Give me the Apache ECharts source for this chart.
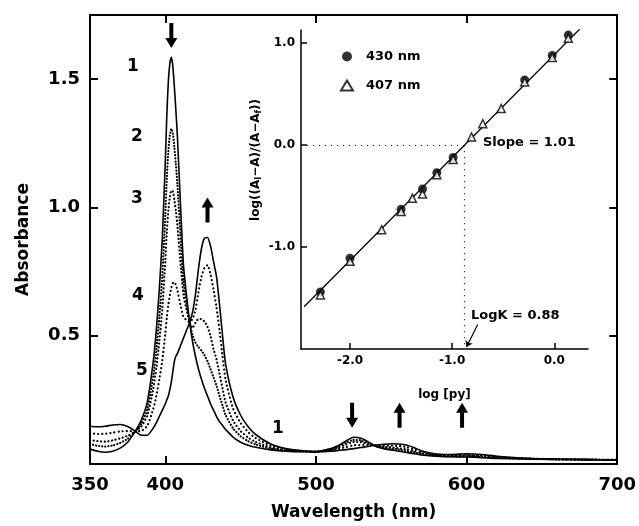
<!DOCTYPE html>
<html><head><meta charset="utf-8">
<script src="https://cdn.jsdelivr.net/npm/echarts@6/dist/echarts.min.js"></script>
<style>html,body{margin:0;padding:0;background:#fff}#c{width:639px;height:526px}</style>
</head><body><div id="c"></div>
<script>
// ---- main spectra (wavelength nm, absorbance) ----
const wavelengths = [350,355,360,365,370,375,380,384,388,392,394,396,398,400,401,402,403,404,405,406,407,408,410,412,414,416,418,420,422,424,426,428,430,432,434,436,438,440,445,450,455,460,470,480,490,500,510,515,520,525,530,535,540,545,550,555,560,565,570,575,580,590,600,610,620,640,660,680,700];
const spectrum1 = [.058,.050,.046,.050,.062,.085,.127,.17,.24,.40,.52,.68,.88,1.18,1.36,1.49,1.56,1.585,1.55,1.47,1.38,1.28,1.02,.78,.66,.56,.48,.42,.37,.33,.295,.265,.235,.21,.185,.165,.15,.135,.105,.085,.073,.065,.055,.05,.048,.048,.06,.072,.09,.104,.10,.085,.068,.06,.055,.05,.045,.04,.035,.032,.03,.028,.027,.025,.022,.02,.018,.017,.016];
const spectrum2 = [.078,.071,.068,.072,.082,.098,.127,.157,.212,.343,.441,.571,.733,.972,1.116,1.220,1.281,1.307,1.288,1.235,1.169,1.093,.897,.716,.629,.558,.504,.473,.456,.442,.424,.401,.370,.338,.305,.265,.227,.191,.139,.108,.089,.076,.060,.052,.049,.048,.058,.068,.083,.094,.092,.081,.069,.064,.060,.056,.051,.045,.039,.035,.032,.030,.030,.028,.024,.020,.018,.017,.016];
const spectrum3 = [.094,.089,.087,.092,.100,.110,.127,.146,.188,.293,.372,.477,.605,.793,.905,.988,1.039,1.066,1.062,1.031,.986,.932,.790,.661,.603,.556,.53,.55,.565,.565,.555,.535,.50,.448,.408,.352,.294,.240,.169,.128,.103,.086,.064,.054,.050,.048,.056,.064,.076,.086,.085,.078,.070,.067,.065,.061,.057,.050,.042,.037,.034,.032,.032,.030,.025,.021,.018,.017,.016];
const spectrum4 = [.121,.117,.118,.122,.127,.128,.128,.129,.149,.215,.264,.329,.404,.509,.572,.620,.658,.687,.705,.710,.698,.677,.622,.574,.561,.553,.565,.60,.67,.73,.765,.775,.74,.68,.61,.52,.42,.33,.215,.160,.124,.101,.071,.057,.051,.048,.053,.059,.066,.073,.074,.074,.072,.072,.072,.070,.066,.057,.047,.041,.036,.034,.036,.034,.028,.021,.019,.017,.016];
const spectrum5 = [.147,.145,.147,.152,.154,.146,.128,.112,.112,.14,.16,.185,.21,.235,.25,.265,.29,.32,.36,.40,.42,.43,.46,.49,.52,.55,.59,.66,.76,.84,.88,.883,.85,.79,.73,.62,.50,.39,.26,.19,.145,.115,.078,.06,.052,.048,.05,.053,.056,.06,.064,.069,.074,.077,.079,.078,.074,.064,.052,.044,.039,.037,.04,.037,.03,.022,.019,.017,.016];
const mainXLabels = [350,400,500,600,700];
const mainXTicks = [400,500,600];
const mainYTicks = [0.5,1.0,1.5];
// arrows: [wavelength, absorbance, direction]
const arrows = [[404,1.67,'down'],[428,0.99,'up'],[524,0.19,'down'],[555.5,0.19,'up'],[597,0.19,'up']];

// ---- inset: log[py] vs log((Ai-A)/(A-Af)) ----
const logPy430 = [-2.29,-2.0,-1.50,-1.29,-1.15,-0.99,-0.29,-0.02,0.137];
const logRatio430 = [-1.44,-1.11,-0.63,-0.43,-0.27,-0.12,0.64,0.88,1.08];
const logPy407 = [-2.29,-2.0,-1.69,-1.50,-1.39,-1.29,-1.15,-0.99,-0.81,-0.70,-0.52,-0.29,-0.02,0.137];
const logRatio407 = [-1.47,-1.14,-0.83,-0.65,-0.52,-0.48,-0.29,-0.14,0.08,0.21,0.36,0.62,0.86,1.05];
const fitX = [-2.45,0.27];
const fitY = [-1.586,1.16];
const logKx = -0.88;
const insetTicks = [-2,-1,0];
const insetYTicks = [-1,0,1];

const F = 'DejaVu Sans';
const bold = (s)=>({fontFamily:F,fontWeight:'bold',fontSize:s,color:'#000'});
const upArrow = 'path://M6,0 L12,10 L8,10 L8,25 L4,25 L4,10 L0,10 Z';
const downArrow = 'path://M4,0 L8,0 L8,15 L12,15 L6,25 L0,15 L4,15 Z';

const mk = (name, vals, ls) => ({
  name, type:'line', xAxisIndex:0, yAxisIndex:0, showSymbol:false, smooth:0.2, silent:true,
  data: wavelengths.map((w,i)=>[w, vals[i]]),
  lineStyle: Object.assign({color:'#000'}, ls), z:3
});

const s1 = mk('1', spectrum1, {width:1.6, type:'solid'});
s1.markPoint = {
  silent:true, label:{show:false},
  itemStyle:{color:'#000'},
  data: arrows.map(a=>({coord:[a[0],a[1]], symbol: a[2]==='up'?upArrow:downArrow, symbolSize:[12,25]}))
};

const fitSeries = {
  name:'fit', type:'line', xAxisIndex:2, yAxisIndex:2, showSymbol:false, silent:true,
  data: fitX.map((x,i)=>[x, fitY[i]]), lineStyle:{color:'#000', width:1.3}, z:4,
  markLine:{
    silent:true, symbol:['none','none'], label:{show:false},
    lineStyle:{color:'#000', type:[1,5], width:1.2},
    data:[
      [{coord:[-2.48,0]},{coord:[logKx,0]}],
      [{coord:[logKx,0]},{coord:[logKx,-2]}]
    ]
  }
};
const pointerSeries = {
  name:'ptr', type:'line', xAxisIndex:2, yAxisIndex:2, showSymbol:false, silent:true, data:[],
  markLine:{
    silent:true, symbol:['none','arrow'], symbolSize:6, label:{show:false},
    lineStyle:{color:'#000', type:'solid', width:1.2},
    data:[[{coord:[-0.75,-1.76]},{coord:[-0.86,-1.98]}]]
  }
};

const option = {
  animation:false,
  backgroundColor:'#fff',
  grid:[{left:90, top:15, width:528, height:455}, {left:301, top:30, width:287, height:319}],
  legend:{
    data:['430 nm','407 nm'], orient:'vertical', left:335, top:45, itemWidth:12, itemHeight:10, itemGap:16,
    textStyle:Object.assign(bold(13),{padding:[0,0,0,8]}), selectedMode:false
  },
  xAxis:[
    {gridIndex:0, type:'value', min:350, max:700, position:'bottom',
     axisLine:{onZero:false, lineStyle:{color:'#000', width:2}},
     axisTick:{inside:true, length:8, customValues:mainXTicks, lineStyle:{color:'#000', width:2}},
     axisLabel:Object.assign(bold(18),{customValues:mainXLabels, margin:12}),
     splitLine:{show:false},
     name:'Wavelength (nm)', nameLocation:'middle', nameGap:40, nameTextStyle:bold(17)},
    {gridIndex:0, type:'value', min:350, max:700, position:'top',
     axisLine:{onZero:false, lineStyle:{color:'#000', width:2}},
     axisTick:{inside:true, length:8, customValues:mainXTicks, lineStyle:{color:'#000', width:2}},
     axisLabel:{show:false}, splitLine:{show:false}},
    {gridIndex:1, type:'value', min:-2.48, max:0.33, position:'bottom',
     axisLine:{onZero:false, lineStyle:{color:'#000', width:1.5}},
     axisTick:{inside:true, length:6, customValues:insetTicks, lineStyle:{color:'#000', width:1.5}},
     axisLabel:Object.assign(bold(12),{customValues:insetTicks, margin:6, formatter:v=>v.toFixed(1)}),
     splitLine:{show:false},
     name:'log [py]', nameLocation:'middle', nameGap:40, nameTextStyle:bold(12)}
  ],
  yAxis:[
    {gridIndex:0, type:'value', min:0, max:1.75, position:'left',
     axisLine:{onZero:false, lineStyle:{color:'#000', width:2}},
     axisTick:{inside:true, length:8, customValues:mainYTicks, lineStyle:{color:'#000', width:2}},
     axisLabel:Object.assign(bold(18),{customValues:mainYTicks, margin:10, formatter:v=>v.toFixed(1)}),
     splitLine:{show:false},
     name:'Absorbance', nameLocation:'middle', nameGap:58, nameRotate:90, nameTextStyle:bold(17)},
    {gridIndex:0, type:'value', min:0, max:1.75, position:'right',
     axisLine:{onZero:false, lineStyle:{color:'#000', width:2}},
     axisTick:{inside:true, length:8, customValues:mainYTicks, lineStyle:{color:'#000', width:2}},
     axisLabel:{show:false}, splitLine:{show:false}},
    {gridIndex:1, type:'value', min:-2, max:1.13, position:'left',
     axisLine:{onZero:false, lineStyle:{color:'#000', width:1.5}},
     axisTick:{inside:true, length:6, customValues:insetYTicks, lineStyle:{color:'#000', width:1.5}},
     axisLabel:Object.assign(bold(12),{customValues:insetYTicks, margin:6, formatter:v=>v.toFixed(1)}),
     splitLine:{show:false}}
  ],
  series:[
    s1,
    mk('2', spectrum2, {width:2.2, type:[0.1,3], cap:'round'}),
    mk('3', spectrum3, {width:2.2, type:[0.1,3.6], cap:'round'}),
    mk('4', spectrum4, {width:2.2, type:[0.1,4], cap:'round'}),
    mk('5', spectrum5, {width:1.6, type:'solid'}),
    fitSeries, pointerSeries,
    {name:'430 nm', type:'scatter', xAxisIndex:2, yAxisIndex:2, symbol:'circle', symbolSize:9, silent:true, z:6,
     itemStyle:{color:'#000'}, data: logPy430.map((x,i)=>[x, logRatio430[i]])},
    {name:'407 nm', type:'scatter', xAxisIndex:2, yAxisIndex:2, symbol:'triangle', symbolSize:8, silent:true, z:7,
     itemStyle:{color:'#fff', borderColor:'#000', borderWidth:1.5}, data: logPy407.map((x,i)=>[x, logRatio407[i]])}
  ],
  graphic:[
    {type:'text', left:127, top:58, style:{text:'1', font:'bold 17px "DejaVu Sans"', fill:'#000'}},
    {type:'text', left:131, top:128, style:{text:'2', font:'bold 17px "DejaVu Sans"', fill:'#000'}},
    {type:'text', left:131, top:190, style:{text:'3', font:'bold 17px "DejaVu Sans"', fill:'#000'}},
    {type:'text', left:132, top:287, style:{text:'4', font:'bold 17px "DejaVu Sans"', fill:'#000'}},
    {type:'text', left:136, top:362, style:{text:'5', font:'bold 17px "DejaVu Sans"', fill:'#000'}},
    {type:'text', left:272, top:420, style:{text:'1', font:'bold 17px "DejaVu Sans"', fill:'#000'}},
    {type:'text', left:483, top:136, style:{text:'Slope = 1.01', font:'bold 13px "DejaVu Sans"', fill:'#000'}},
    {type:'text', left:471, top:309, style:{text:'LogK = 0.88', font:'bold 13px "DejaVu Sans"', fill:'#000'}},
    {type:'text', x:256, y:160, rotation:Math.PI/2,
     style:{text:'{n|log((A}{s|I}{n|−A)/(A−A}{s|f}{n|))}', align:'center', verticalAlign:'middle', fill:'#000',
       rich:{n:{font:'bold 12px "DejaVu Sans"', fill:'#000'}, s:{font:'bold 8px "DejaVu Sans"', fill:'#000', padding:[6,0,0,0]}}}}
  ]
};
const chart = echarts.init(document.getElementById('c'));
chart.setOption(option);
</script>
</body></html>
